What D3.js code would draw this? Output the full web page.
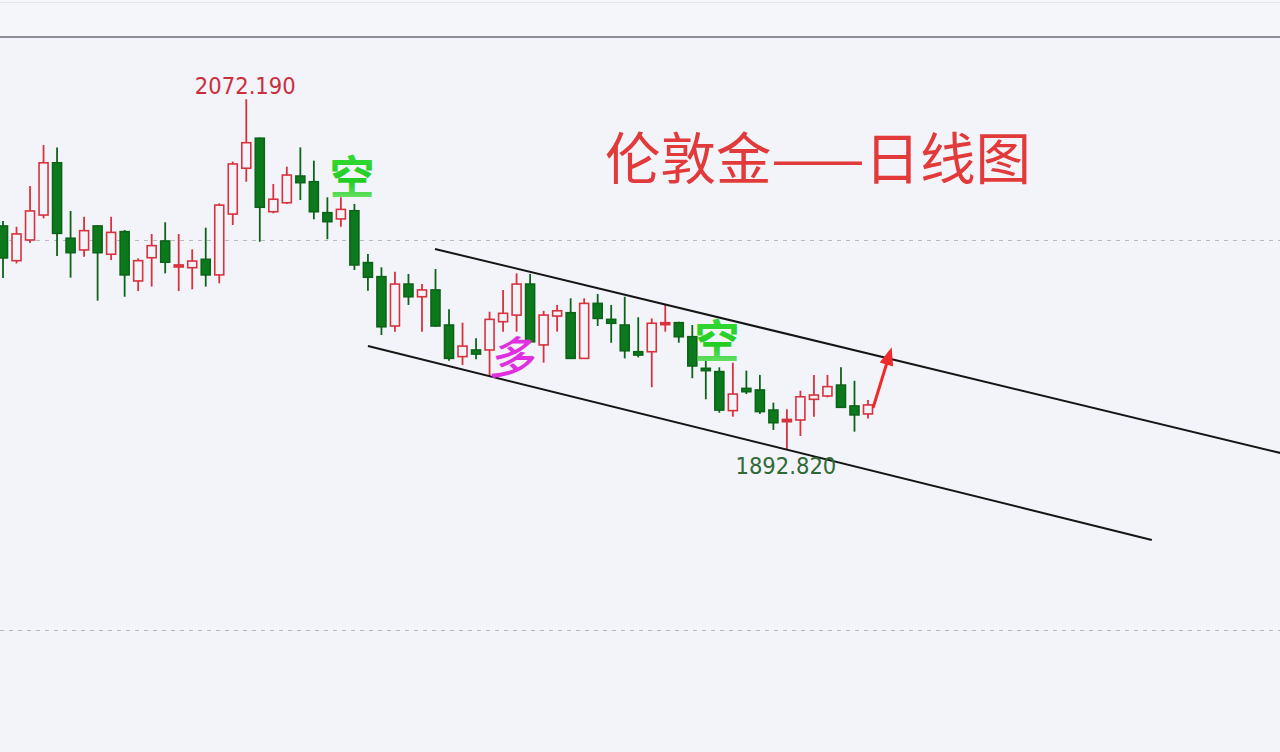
<!DOCTYPE html>
<html><head><meta charset="utf-8">
<script src="https://cdn.jsdelivr.net/npm/d3@7/dist/d3.min.js"></script>
<style>
html,body{margin:0;padding:0;background:#f3f4f9;overflow:hidden;}
svg{display:block;}
</style></head>
<body>
<svg id="c" width="1280" height="752"></svg>
<script>
// ---- data ----
const days = d3.range(1, 66).map(d => "D" + d);
const opens  = [2007.2,1989.4,2000.0,2012.8,2039.6,2000.9,1994.9,2007.2,1992.7,2004.3,1979.0,1990.9,1999.5,1986.3,1985.8,1990.1,1982.1,2013.3,2036.8,2052.2,2014.5,2019.1,2032.8,2029.9,2014.0,2010.8,2015.0,1988.4,1981.2,1955.9,1977.4,1970.9,1974.4,1956.4,1940.2,1943.6,1943.6,1958.1,1961.5,1977.4,1946.2,1961.0,1962.7,1939.3,1967.5,1959.3,1956.4,1942.7,1942.7,1956.8,1957.6,1950.4,1934.2,1932.5,1912.5,1923.9,1923.1,1912.8,1906.8,1907.7,1918.3,1920.0,1925.6,1914.9,1910.8];
const highs  = [2009.7,2006.8,2027.7,2048.7,2047.5,2014.9,2011.9,2007.7,2011.9,2005.1,1990.6,2003.1,2009.1,2003.1,1995.2,2006.3,2018.8,2040.2,2072.19,2052.5,2028.7,2037.6,2047.5,2040.7,2021.9,2021.9,2018.5,1992.8,1986.0,1983.7,1982.6,1977.4,1985.1,1964.5,1957.6,1949.6,1963.2,1974.4,1982.9,1982.6,1963.7,1966.7,1970.1,1970.1,1972.3,1966.7,1970.9,1960.4,1959.8,1966.7,1958.1,1956.4,1939.8,1934.7,1937.1,1933.0,1930.8,1916.6,1913.2,1922.7,1930.8,1930.8,1934.7,1927.8,1917.9];
const lows   = [1980.5,1988.0,1998.5,2011.1,1991.8,1980.7,1991.4,1968.9,1989.7,1970.9,1973.8,1976.1,1982.9,1973.8,1974.7,1976.1,1977.8,2007.7,2029.9,1999.1,2013.7,2018.5,2020.5,2010.6,2000.4,2006.8,1984.6,1974.0,1951.3,1953.0,1966.7,1953.0,1955.5,1938.1,1935.9,1938.8,1930.3,1953.0,1953.0,1947.0,1937.1,1953.0,1939.3,1939.3,1955.9,1947.3,1939.3,1939.8,1924.5,1953.0,1947.3,1929.1,1918.3,1911.4,1909.4,1921.0,1910.8,1902.6,1892.82,1899.5,1909.4,1919.3,1914.2,1901.7,1908.5];
const closes = [1990.8,2003.1,2014.9,2039.6,2003.4,1993.5,2004.8,1993.5,2003.9,1982.1,1989.4,1997.1,1988.6,1987.2,1989.2,1982.1,2017.9,2039.0,2049.9,2016.8,2020.9,2033.3,2029.4,2014.5,2009.4,2015.7,1987.2,1980.9,1955.5,1977.4,1970.9,1974.4,1955.9,1939.3,1945.6,1941.5,1959.3,1962.4,1977.4,1947.8,1961.5,1963.7,1939.3,1967.5,1959.8,1957.3,1943.2,1941.0,1957.3,1957.6,1950.4,1935.4,1933.0,1912.8,1921.0,1922.2,1912.0,1906.3,1908.0,1919.6,1920.5,1924.8,1914.2,1910.3,1915.4];
const gridPrices = [2000, 1800];
const channelUpper = [[31.96, 1995.4], [94.5, 1890.8]];
const channelLower = [[27.0, 1945.6], [85.0, 1846.2]];
const arrowPath = [[64.4, 1914.5], [65.75, 1945.0]];
const highLabel = "2072.190";
const lowLabel = "1892.820";
const titleText = "伦敦金——日线图";

// ---- scales ----
const svg = d3.select("#c");
const x = d3.scaleLinear().domain([0, 64]).range([3, 868]);
const y = d3.scaleLinear().domain([1800, 2000]).range([630, 240]);

svg.append("rect").attr("width",1280).attr("height",752).attr("fill","#f3f4f9");
svg.append("rect").attr("width",1280).attr("height",37).attr("fill","#f5f6fa");
svg.append("line").attr("x1",0).attr("x2",1280).attr("y1",2.5).attr("y2",2.5).attr("stroke","#e2e3ea").attr("stroke-width",1);
svg.append("line").attr("x1",0).attr("x2",1280).attr("y1",37).attr("y2",37).attr("stroke","#8d8e96").attr("stroke-width",2);

// grid
svg.selectAll(".grid").data(gridPrices).enter().append("line")
  .attr("x1",0).attr("x2",1280)
  .attr("y1",d=>Math.round(y(d))+0.5).attr("y2",d=>Math.round(y(d))+0.5)
  .attr("stroke","#b9bac2").attr("stroke-width",1).attr("stroke-dasharray","4,5");

// candles
const RED = "#d8323e", GREEN_F = "#0c7a1c", GREEN_S = "#0b6418";
const data = days.map((d,i)=>({i, o:opens[i], h:highs[i], l:lows[i], c:closes[i]}));
const g = svg.append("g");
const bw = 9;
data.forEach(d=>{
  const up = d.c >= d.o;
  const col = up ? RED : GREEN_S;
  const cx = x(d.i);
  const top = y(Math.max(d.o,d.c)), bot = y(Math.min(d.o,d.c));
  g.append("line").attr("x1",cx).attr("x2",cx).attr("y1",y(d.h)).attr("y2",y(d.l))
    .attr("stroke", up ? RED : GREEN_S).attr("stroke-width",1.8);
  const h = Math.max(bot-top, 2);
  g.append("rect").attr("x",cx-bw/2).attr("y",top).attr("width",bw).attr("height",h)
    .attr("fill", up ? (h > 3 ? "#f3f4f9" : RED) : GREEN_F)
    .attr("stroke", col).attr("stroke-width",1.6);
});

// channel lines
const ln = d3.line().x(d=>x(d[0])).y(d=>y(d[1]));
[channelUpper, channelLower].forEach(c=>{
  svg.append("path").attr("d", ln(c)).attr("fill","none").attr("stroke","#151515").attr("stroke-width",2);
});

// arrow
const ax0 = x(arrowPath[0][0]), ay0 = y(arrowPath[0][1]);
const ax1 = x(arrowPath[1][0]), ay1 = y(arrowPath[1][1]);
const ang = Math.atan2(ay1-ay0, ax1-ax0);
const hl = 18, hw = 7;
const bx = ax1 - hl*Math.cos(ang), by = ay1 - hl*Math.sin(ang);
svg.append("line").attr("x1",ax0).attr("y1",ay0).attr("x2",bx).attr("y2",by)
  .attr("stroke","#ee2a2a").attr("stroke-width",3).attr("stroke-linecap","round");
svg.append("path").attr("fill","#ee2a2a")
  .attr("d",`M${ax1},${ay1}L${bx+hw*Math.sin(ang)},${by-hw*Math.cos(ang)}L${bx-hw*Math.sin(ang)},${by+hw*Math.cos(ang)}Z`);

// labels
svg.append("text").attr("x",x(18)-1).attr("y",y(2072.19)-5).attr("text-anchor","middle")
  .attr("font-family","'DejaVu Sans Condensed','DejaVu Sans',sans-serif").attr("font-size",23.5)
  .attr("fill","#c92f3d").text(highLabel);
svg.append("text").attr("x",x(58)-1).attr("y",y(1892.82)+25).attr("text-anchor","middle")
  .attr("font-family","'DejaVu Sans Condensed','DejaVu Sans',sans-serif").attr("font-size",23.5)
  .attr("fill","#2f6a36").text(lowLabel);

const defs = svg.append("defs");
const gr = defs.append("linearGradient").attr("id","gk").attr("x1",0).attr("y1",0).attr("x2",0).attr("y2",1);
gr.append("stop").attr("offset","0%").attr("stop-color","#3ee03e");
gr.append("stop").attr("offset","60%").attr("stop-color","#22cc22");
gr.append("stop").attr("offset","100%").attr("stop-color","#8cec8c");

const cjk = "'Noto Sans CJK SC','Noto Sans CJK JP',sans-serif";
svg.append("text").attr("x",352).attr("y",194).attr("text-anchor","middle")
  .attr("font-family",cjk).attr("font-size",45).attr("font-weight",700).attr("fill","url(#gk)").text("空");
svg.append("text").attr("x",717).attr("y",358).attr("text-anchor","middle")
  .attr("font-family",cjk).attr("font-size",45).attr("font-weight",700).attr("fill","url(#gk)").text("空");
svg.append("text").attr("transform","translate(511,374) skewX(-12)").attr("text-anchor","middle")
  .attr("font-family",cjk).attr("font-size",45).attr("font-weight",500).attr("fill","#e02ee0").text("多");

svg.append("text").attr("x",605).attr("y",179)
  .attr("font-family",cjk).attr("font-size",55.5).attr("fill","#e23a3a").text(titleText);
</script>
</body></html>
